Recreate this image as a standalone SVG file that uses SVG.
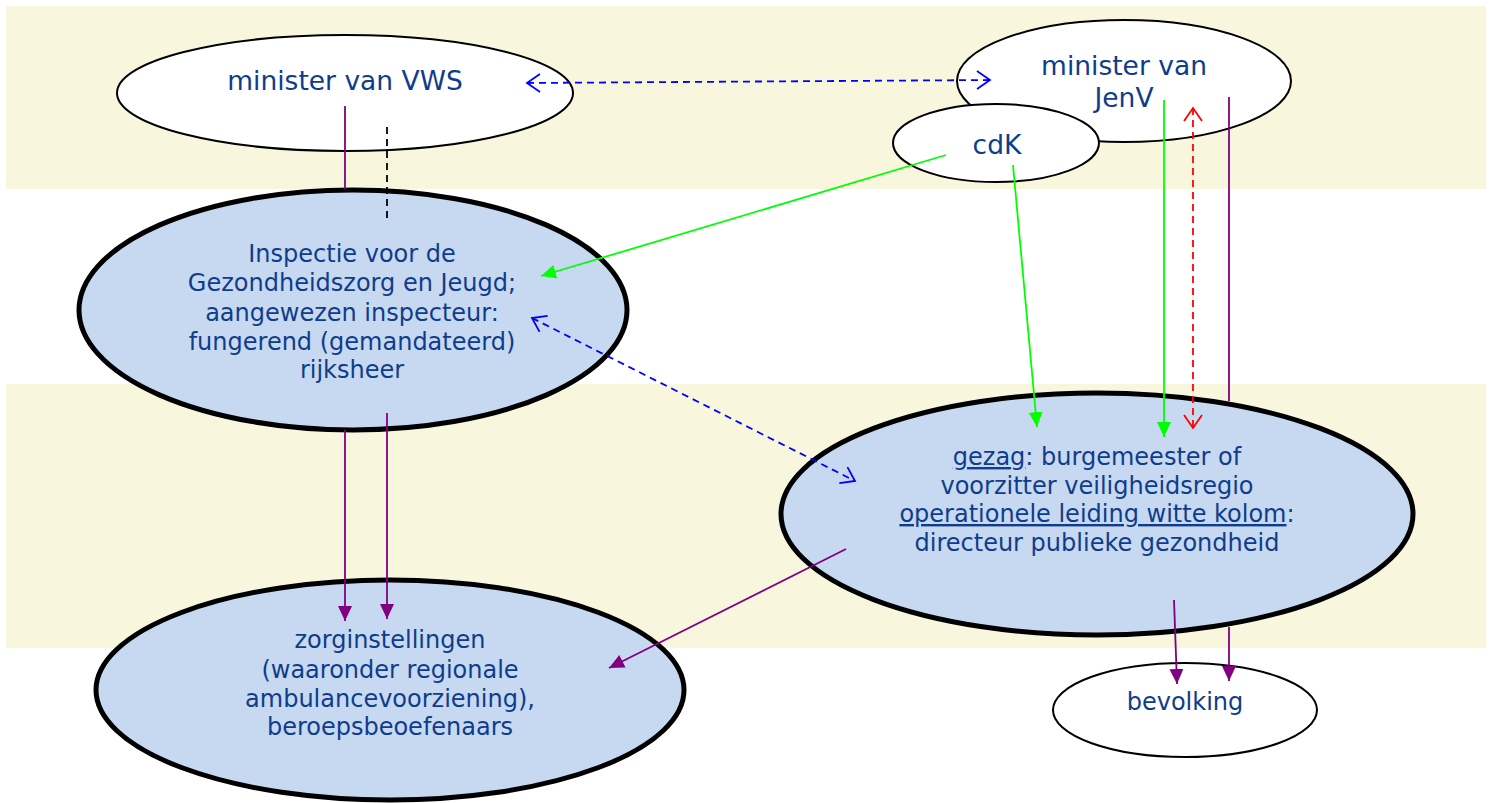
<svg xmlns="http://www.w3.org/2000/svg" width="1494" height="803" viewBox="0 0 1494 803">
<style>
.band{fill:#F8F7DE}
.thin{stroke:#000;stroke-width:2}
.thick{stroke:#000;stroke-width:5;fill:#C6D9F0}
.white{fill:#FFFFFF}
.t{font-family:"DejaVu Sans","Liberation Sans",sans-serif;font-size:24px;fill:#0F3C8C;text-anchor:middle}
.big{font-size:26.5px}
.c{fill:none;stroke-width:1.8}
.g{stroke:#00FF00}
.p{stroke:#800080}
.b{stroke:#0000FF;stroke-dasharray:7,5}
.r{stroke:#FF0000;stroke-dasharray:7,5}
.k{stroke:#000;stroke-dasharray:7,5}
</style>
<defs>
<marker id="ag" markerUnits="userSpaceOnUse" markerWidth="16" markerHeight="14" refX="15" refY="7" orient="auto"><path d="M0,0 L15,7 L0,14 z" fill="#00FF00"/></marker>
<marker id="ap" markerUnits="userSpaceOnUse" markerWidth="16" markerHeight="14" refX="15" refY="7" orient="auto"><path d="M0,0 L15,7 L0,14 z" fill="#800080"/></marker>
<marker id="ob" markerUnits="userSpaceOnUse" markerWidth="16" markerHeight="20" refX="14" refY="10" orient="auto-start-reverse"><path d="M1,1 L14,10 L1,19" fill="none" stroke="#0000FF" stroke-width="1.8"/></marker>
<marker id="or" markerUnits="userSpaceOnUse" markerWidth="16" markerHeight="20" refX="14" refY="10" orient="auto-start-reverse"><path d="M1,1 L14,10 L1,19" fill="none" stroke="#FF0000" stroke-width="1.8"/></marker>
</defs>
<rect class="band" x="6" y="6" width="1480" height="183"/>
<rect class="band" x="6" y="384" width="1480" height="264"/>
<g id="vws">
<ellipse class="thin white" cx="345" cy="93" rx="228" ry="58"/>
<text class="t big" x="345" y="90">minister van VWS</text>
</g>
<g id="jenv">
<ellipse class="thin white" cx="1124" cy="81" rx="167" ry="61"/>
<text class="t big" x="1124" y="75">minister van</text>
<text class="t big" x="1124" y="107">JenV</text>
</g>
<g id="cdk">
<ellipse class="thin white" cx="996" cy="143" rx="103" ry="39"/>
<text class="t big" x="997" y="154">cdK</text>
</g>
<g id="inspectie">
<ellipse class="thick" cx="353" cy="310" rx="274" ry="120"/>
<text class="t" x="352" y="262">Inspectie voor de</text>
<text class="t" x="352" y="291">Gezondheidszorg en Jeugd;</text>
<text class="t" x="352" y="321">aangewezen inspecteur:</text>
<text class="t" x="352" y="350">fungerend (gemandateerd)</text>
<text class="t" x="352" y="378">rijksheer</text>
</g>
<g id="gezag">
<ellipse class="thick" cx="1097" cy="514" rx="316" ry="121"/>
<text class="t" x="1097" y="465"><tspan text-decoration="underline">gezag</tspan>: burgemeester of</text>
<text class="t" x="1097" y="494">voorzitter veiligheidsregio</text>
<text class="t" x="1097" y="522"><tspan text-decoration="underline">operationele leiding witte kolom</tspan>:</text>
<text class="t" x="1097" y="551">directeur publieke gezondheid</text>
</g>
<g id="zorg">
<ellipse class="thick" cx="390" cy="690" rx="294" ry="110"/>
<text class="t" x="390" y="648">zorginstellingen</text>
<text class="t" x="390" y="678">(waaronder regionale</text>
<text class="t" x="390" y="707">ambulancevoorziening),</text>
<text class="t" x="390" y="735">beroepsbeoefenaars</text>
</g>
<g id="bevolking">
<ellipse class="thin white" cx="1185" cy="710" rx="132" ry="47"/>
<text class="t" x="1185" y="710">bevolking</text>
</g>
<g id="connectors">
<line class="c b" x1="527" y1="83" x2="990" y2="80" marker-start="url(#ob)" marker-end="url(#ob)"/>
<line class="c p" x1="345" y1="106" x2="345" y2="189"/>
<line class="c k" x1="387" y1="127" x2="387" y2="219"/>
<line class="c g" x1="946" y1="155" x2="541" y2="276" marker-end="url(#ag)"/>
<line class="c g" x1="1013" y1="165" x2="1037" y2="427" marker-end="url(#ag)"/>
<line class="c g" x1="1164" y1="100" x2="1164" y2="437" marker-end="url(#ag)"/>
<line class="c r" x1="1193" y1="108" x2="1193" y2="428" marker-start="url(#or)" marker-end="url(#or)"/>
<line class="c p" x1="1229" y1="97" x2="1229" y2="401"/>
<line class="c b" x1="532" y1="318" x2="855" y2="481" marker-start="url(#ob)" marker-end="url(#ob)"/>
<line class="c p" x1="345" y1="430" x2="345" y2="621" marker-end="url(#ap)"/>
<line class="c p" x1="387" y1="413" x2="387" y2="619" marker-end="url(#ap)"/>
<line class="c p" x1="846" y1="549" x2="609" y2="668" marker-end="url(#ap)"/>
<line class="c p" x1="1174" y1="600" x2="1177" y2="684" marker-end="url(#ap)"/>
<line class="c p" x1="1229" y1="627" x2="1229" y2="681" marker-end="url(#ap)"/>
</g>
</svg>
